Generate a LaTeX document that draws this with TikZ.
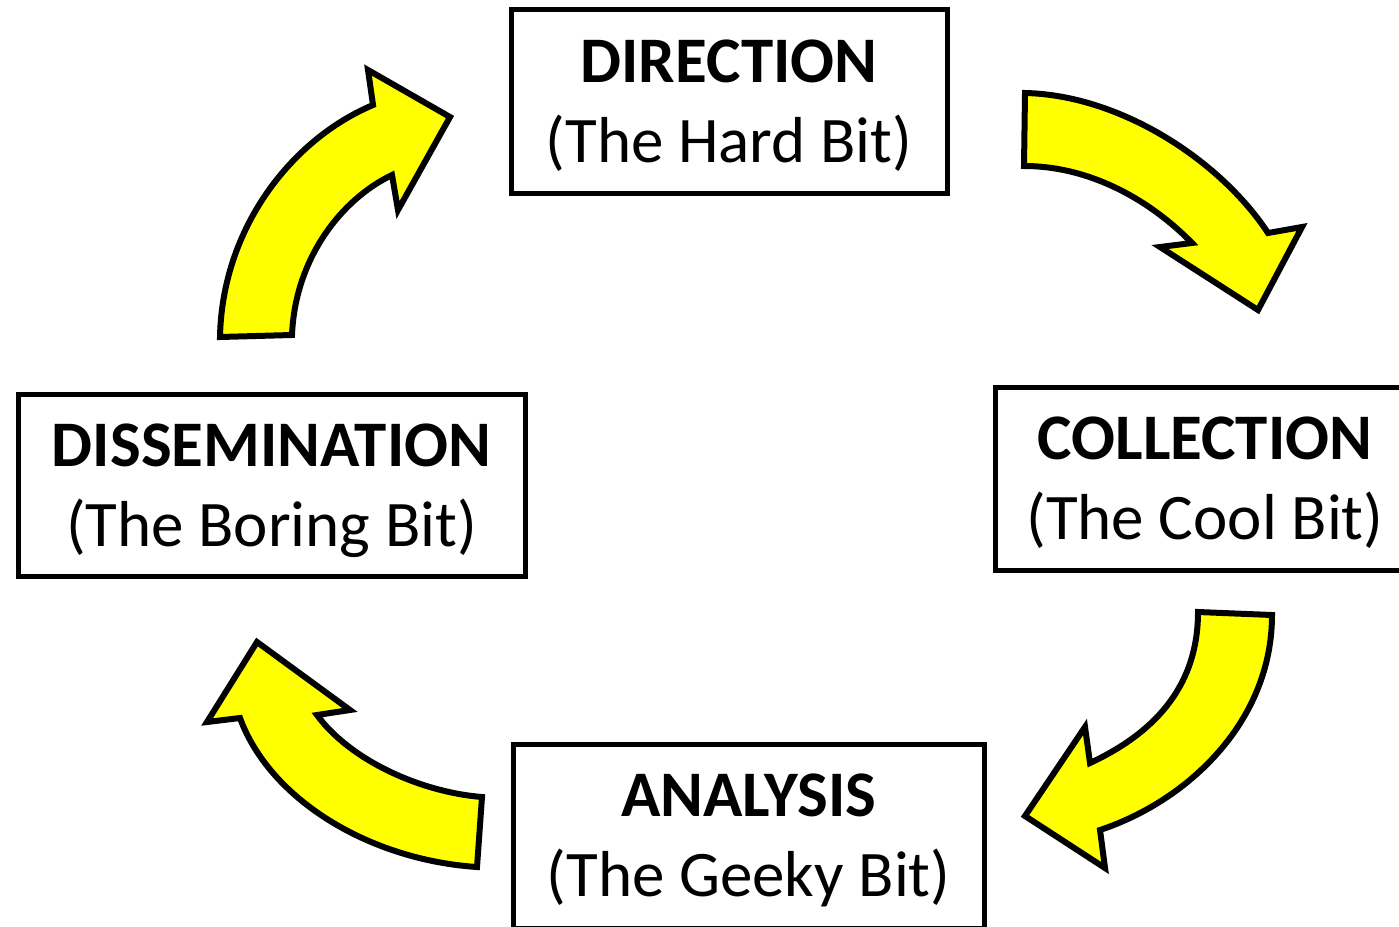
\documentclass[tikz,border=0pt]{standalone}
\usepackage{fontspec}
\setmainfont{Carlito}
\usetikzlibrary{calc}
\begin{document}
\begin{tikzpicture}[x=1pt,y=-1pt,
  box/.style={draw=black,line width=5pt,inner sep=0pt},
  titletext/.style={anchor=base,inner sep=0pt,font=\fontsize{65}{78}\selectfont\bfseries},
  subtext/.style={anchor=base,inner sep=0pt,font=\fontsize{65}{78}\selectfont},
  blockarrow/.style={fill={rgb,255:red,255;green,255;blue,0},draw=black,line width=6pt,line join=miter}]
\useasboundingbox (0,0) rectangle (1399,926);
\clip (0,0) rectangle (1399,926);
% boxes
\node[box,minimum width=436pt,minimum height=184pt] (dir) at (729,101.5) {};
\node[titletext] (dirT) at ($(dir.north)+(0,75)$) {DIRECTION};
\node[subtext] (dirS) at ($(dir.north)+(0,155)$) {(The Hard Bit)};

\node[box,minimum width=420pt,minimum height=183pt] (col) at (1205,478.5) {};
\node[titletext] (colT) at ($(col.north)+(0,75)$) {COLLECTION};
\node[subtext] (colS) at ($(col.north)+(0,155)$) {(The Cool Bit)};

\node[box,minimum width=471pt,minimum height=184pt] (ana) at (748.5,836) {};
\node[titletext] (anaT) at ($(ana.north)+(0,75)$) {ANALYSIS};
\node[subtext] (anaS) at ($(ana.north)+(0,155)$) {(The Geeky Bit)};

\node[box,minimum width=507pt,minimum height=182pt] (dis) at (271.5,485) {};
\node[titletext] (disT) at ($(dis.north)+(0,75)$) {DISSEMINATION};
\node[subtext] (disS) at ($(dis.north)+(0,155)$) {(The Boring Bit)};

% curved block arrows
\draw[blockarrow] (220,337) .. controls (222,230) and (290,140) .. (373,105) -- (368,70) -- (450,117) -- (398,210) -- (392,175) .. controls (340,200) and (295,260) .. (292,335) -- cycle;
\draw[blockarrow] (1025,93) .. controls (1120,95) and (1220,160) .. (1268,233) -- (1302,227) -- (1258,310) -- (1160,247) -- (1192,243) .. controls (1150,200) and (1090,166) .. (1024,166) -- cycle;
\draw[blockarrow] (1272,615) .. controls (1272,720) and (1190,800) .. (1100,830) -- (1105,868) -- (1025,816) -- (1085,727) -- (1090,763) .. controls (1150,735) and (1198,690) .. (1198,612) -- cycle;
\draw[blockarrow] (477,867) .. controls (370,860) and (270,800) .. (240,718) -- (207,722) -- (257,642) -- (350,710) -- (317,715) .. controls (350,760) and (420,792) .. (482,797) -- cycle;
\end{tikzpicture}
\end{document}
